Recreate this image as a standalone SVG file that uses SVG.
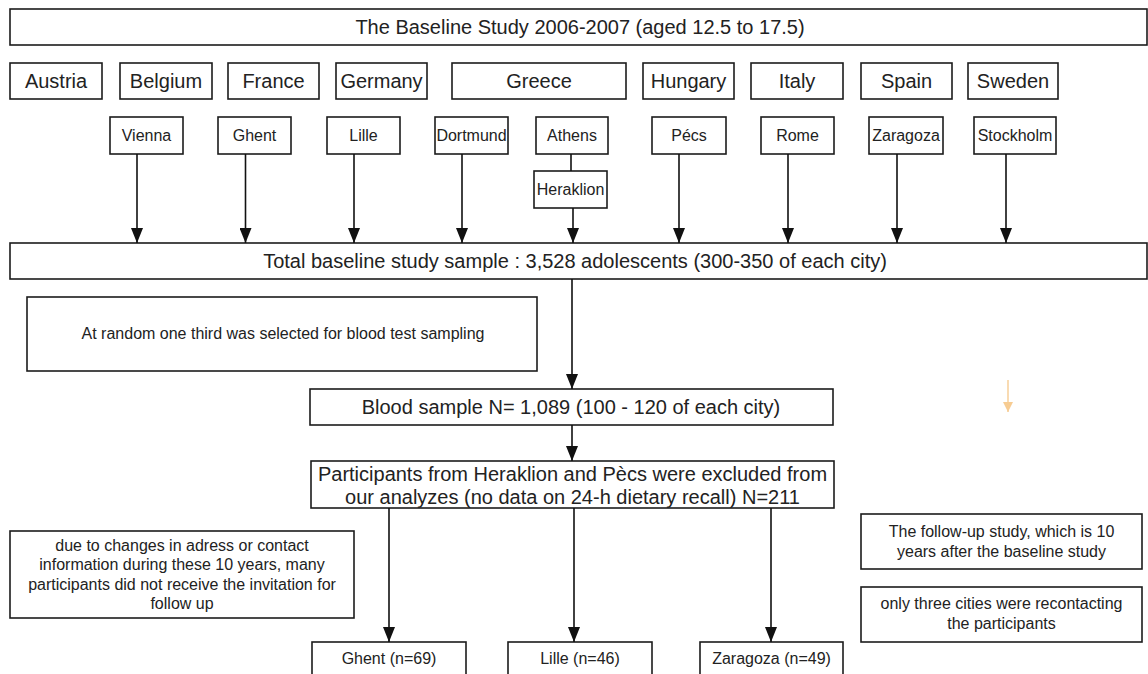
<svg xmlns="http://www.w3.org/2000/svg" width="1148" height="674" viewBox="0 0 1148 674">
<defs>
<marker id="arr" viewBox="0 0 15 12" refX="15" refY="6" markerWidth="15" markerHeight="12" markerUnits="userSpaceOnUse" orient="auto">
<path d="M0,0 L15,6 L0,12 z" fill="#111"/>
</marker>
<marker id="arrO" viewBox="0 0 10 10" refX="10" refY="5" markerWidth="10" markerHeight="10" markerUnits="userSpaceOnUse" orient="auto">
<path d="M0,0 L10,5 L0,10 z" fill="#f7cc92"/>
</marker>
</defs>
<style>
rect{fill:#fff;stroke:#1c1c1c;stroke-width:1.6}
rect.bg{stroke:none}
text{font-family:"Liberation Sans",Arial,sans-serif;fill:#222;text-anchor:middle}
.l{font-size:20px}
.s{font-size:16px}
.c line{stroke:#111;stroke-width:1.6;marker-end:url(#arr)}
.c line.p{marker-end:none}
</style>
<rect class="bg" width="1148" height="674"/>

<g id="baseline"><rect x="10" y="9" width="1137" height="36"/><text class="l" x="580" y="34">The Baseline Study 2006-2007 (aged 12.5 to 17.5)</text></g>

<g id="austria"><rect x="10" y="63" width="92" height="36"/><text class="l" x="56" y="88">Austria</text></g>
<g id="belgium"><rect x="120" y="63" width="92" height="36"/><text class="l" x="166" y="88">Belgium</text></g>
<g id="france"><rect x="228" y="63" width="91" height="36"/><text class="l" x="273.5" y="88">France</text></g>
<g id="germany"><rect x="336" y="63" width="91" height="36"/><text class="l" x="381.5" y="88">Germany</text></g>
<g id="greece"><rect x="452" y="63" width="174" height="36"/><text class="l" x="539" y="88">Greece</text></g>
<g id="hungary"><rect x="643" y="63" width="91" height="36"/><text class="l" x="688.5" y="88">Hungary</text></g>
<g id="italy"><rect x="751" y="63" width="92" height="36"/><text class="l" x="797" y="88">Italy</text></g>
<g id="spain"><rect x="861" y="63" width="91" height="36"/><text class="l" x="906.5" y="88">Spain</text></g>
<g id="sweden"><rect x="968" y="63" width="90" height="36"/><text class="l" x="1013" y="88">Sweden</text></g>

<g id="vienna"><rect x="110" y="117" width="73" height="37"/><text class="s" x="146.5" y="141">Vienna</text></g>
<g id="ghent"><rect x="218" y="117" width="73" height="37"/><text class="s" x="254.5" y="141">Ghent</text></g>
<g id="lille"><rect x="327" y="117" width="73" height="37"/><text class="s" x="363.5" y="141">Lille</text></g>
<g id="dortmund"><rect x="435" y="117" width="73" height="37"/><text class="s" x="471.5" y="141">Dortmund</text></g>
<g id="athens"><rect x="536" y="117" width="72" height="37"/><text class="s" x="572" y="141">Athens</text></g>
<g id="heraklion"><rect x="534" y="171" width="73" height="37"/><text class="s" x="570.5" y="195">Heraklion</text></g>
<g id="pecs"><rect x="652" y="117" width="74" height="37"/><text class="s" x="689" y="141">Pécs</text></g>
<g id="rome"><rect x="761" y="117" width="73" height="37"/><text class="s" x="797.5" y="141">Rome</text></g>
<g id="zaragoza"><rect x="869" y="117" width="74" height="37"/><text class="s" x="906" y="141">Zaragoza</text></g>
<g id="stockholm"><rect x="974" y="117" width="82" height="37"/><text class="s" x="1015" y="141">Stockholm</text></g>

<g id="total"><rect x="10" y="243" width="1137" height="36"/><text class="l" x="575" y="268">Total baseline study sample : 3,528 adolescents (300-350 of each city)</text></g>

<g id="random"><rect x="27" y="297" width="510" height="74"/><text class="s" x="283" y="339">At random one third was selected for blood test sampling</text></g>

<g id="blood"><rect x="310" y="389" width="523" height="36"/><text class="l" x="571" y="414">Blood sample N= 1,089 (100 - 120 of each city)</text></g>

<g id="participants"><rect x="311" y="461" width="523" height="47"/><text class="l" x="572.5" y="481">Participants from Heraklion and Pècs were excluded from</text><text class="l" x="572.5" y="504">our analyzes (no data on 24-h dietary recall) N=211</text></g>

<g id="changes"><rect x="10" y="531" width="344" height="87"/><text class="s" x="182" y="551">due to changes in adress or contact</text><text class="s" x="182" y="570">information during these 10 years, many</text><text class="s" x="182" y="590">participants did not receive the invitation for</text><text class="s" x="182" y="609">follow up</text></g>

<g id="followup"><rect x="861" y="514" width="281" height="55"/><text class="s" x="1001.5" y="537">The follow-up study, which is 10</text><text class="s" x="1001.5" y="557">years after the baseline study</text></g>

<g id="three"><rect x="861" y="587" width="281" height="55"/><text class="s" x="1001.5" y="609">only three cities were recontacting</text><text class="s" x="1001.5" y="629">the participants</text></g>

<g id="ghent2"><rect x="312" y="642" width="154" height="40"/><text class="s" x="389" y="664">Ghent (n=69)</text></g>
<g id="lille2"><rect x="508" y="642" width="144" height="40"/><text class="s" x="580" y="664">Lille (n=46)</text></g>
<g id="zaragoza2"><rect x="700" y="642" width="143" height="40"/><text class="s" x="771.5" y="664">Zaragoza (n=49)</text></g>

<g id="connectors" class="c">
<line x1="137" y1="154" x2="137" y2="243"/>
<line x1="245.5" y1="154" x2="245.5" y2="243"/>
<line x1="354" y1="154" x2="354" y2="243"/>
<line x1="462" y1="154" x2="462" y2="243"/>
<line class="p" x1="571" y1="154" x2="571" y2="171"/>
<line x1="573" y1="208" x2="573" y2="243"/>
<line x1="679" y1="154" x2="679" y2="243"/>
<line x1="788" y1="154" x2="788" y2="243"/>
<line x1="897" y1="154" x2="897" y2="243"/>
<line x1="1006" y1="154" x2="1006" y2="243"/>
<line x1="572" y1="279" x2="572" y2="389"/>
<line x1="572" y1="425" x2="572" y2="461"/>
<line x1="389" y1="508" x2="389" y2="642"/>
<line x1="574" y1="508" x2="574" y2="642"/>
<line x1="771" y1="508" x2="771" y2="642"/>
<line x1="1008" y1="380" x2="1008" y2="412" style="stroke:#f7cc92;stroke-width:1.4;marker-end:url(#arrO)"/>
</g>
</svg>
